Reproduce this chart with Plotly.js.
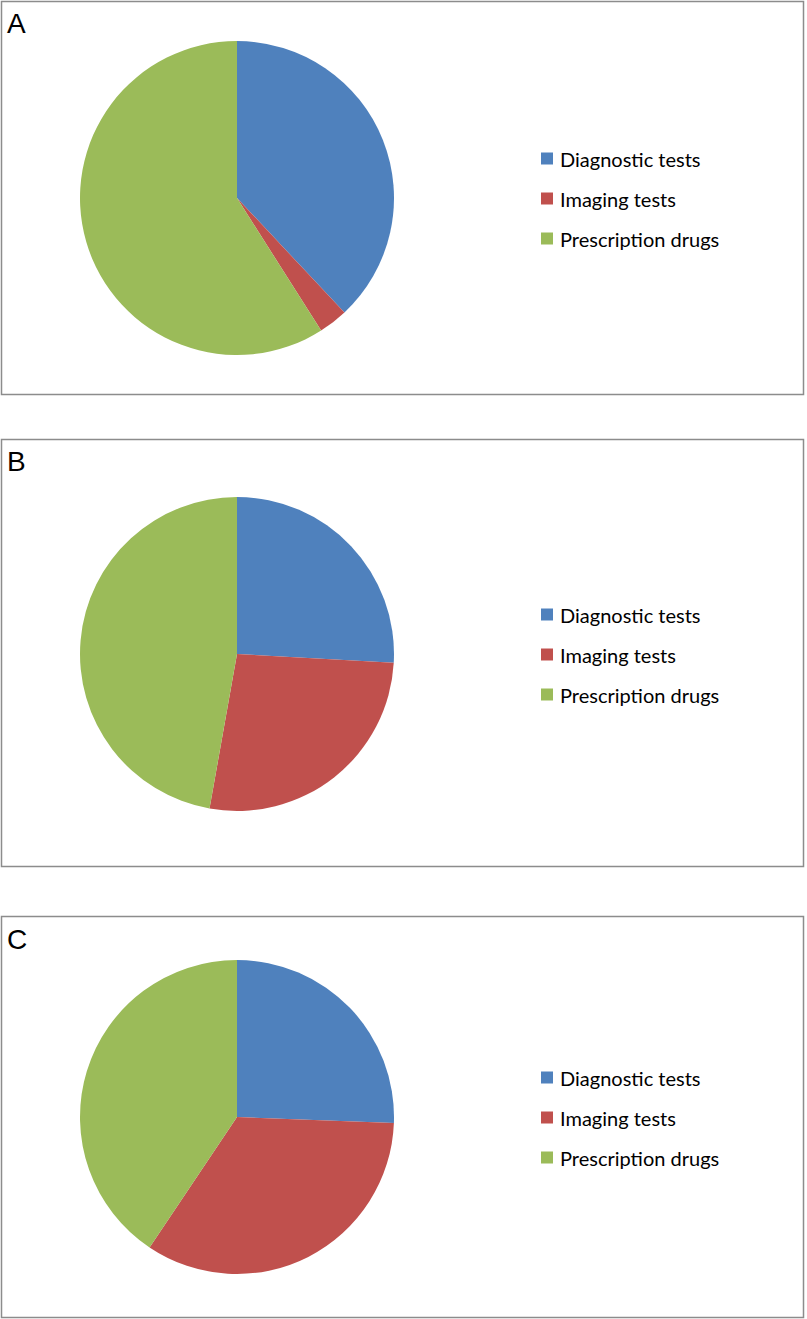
<!DOCTYPE html>
<html>
<head>
<meta charset="utf-8">
<script src="https://cdn.plot.ly/plotly-3.0.1.min.js"></script>
<style>html,body{margin:0;padding:0;background:#fff;}#chart{width:807px;height:1319px;}</style>
</head>
<body>
<div id="chart"></div>
<script>
// Data
const categories = ["Diagnostic tests", "Imaging tests", "Prescription drugs"];
const valuesA = [38, 3, 59];
const valuesB = [25.9, 26.9, 47.2];
const valuesC = [25.6, 33.8, 40.6];
const panelLabels = ["A", "B", "C"];
const colors = ["#4F81BD", "#C0504D", "#9BBB59"];

const W = 807, H = 1319;
const px = x => x / W;
const py = y => 1 - y / H;

// panel geometry in pixels
const panels = [
  {top: 1.5, bottom: 394.5, cy: 198, values: valuesA},
  {top: 439.5, bottom: 866.5, cy: 654, values: valuesB},
  {top: 916.5, bottom: 1317.5, cy: 1117, values: valuesC}
];
const cx = 237, r = 157;

const data = panels.map(p => ({
  type: "pie",
  labels: categories,
  values: p.values,
  sort: false,
  direction: "clockwise",
  rotation: 0,
  textinfo: "none",
  hoverinfo: "label+percent",
  showlegend: false,
  marker: {colors: colors, line: {width: 0}},
  domain: {x: [px(cx - r), px(cx + r)], y: [py(p.cy + r), py(p.cy - r)]}
}));

const shapes = [];
const annotations = [];
panels.forEach((p, i) => {
  shapes.push({type: "rect", xref: "paper", yref: "paper",
    x0: px(1.5), x1: px(803.5), y0: py(p.bottom), y1: py(p.top),
    line: {color: "#8c8c8c", width: 1.5}, fillcolor: "rgba(0,0,0,0)"});
  annotations.push({xref: "paper", yref: "paper", x: px(5), y: py(p.top + 5),
    xanchor: "left", yanchor: "top", text: panelLabels[i], showarrow: false,
    font: {family: "Liberation Sans, Arial, sans-serif", size: 28, color: "#000"}});
  categories.forEach((c, k) => {
    const yc = p.cy - 40 + 40 * k + 0.5;
    shapes.push({type: "rect", xref: "paper", yref: "paper",
      x0: px(541), x1: px(553), y0: py(yc + 6), y1: py(yc - 6),
      line: {width: 0}, fillcolor: colors[k]});
    annotations.push({xref: "paper", yref: "paper", x: px(558), y: py(yc),
      xanchor: "left", yanchor: "middle", text: c, showarrow: false,
      font: {family: "Lato, 'Open Sans', sans-serif", size: 20, color: "#000"}});
  });
});

const layout = {
  width: W, height: H,
  margin: {l: 0, r: 0, t: 0, b: 0},
  paper_bgcolor: "#fff",
  showlegend: false,
  shapes: shapes,
  annotations: annotations
};

Plotly.newPlot("chart", data, layout, {displayModeBar: false, staticPlot: true});
</script>
</body>
</html>
